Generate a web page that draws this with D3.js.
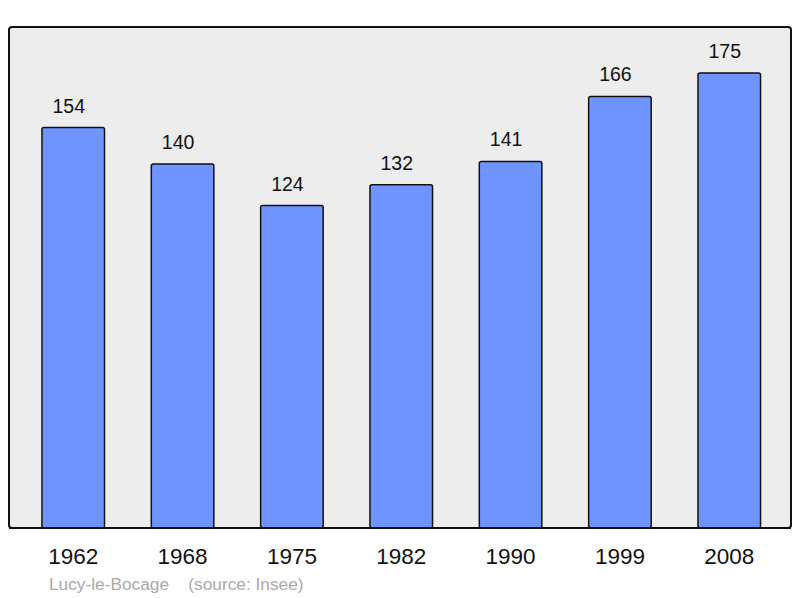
<!DOCTYPE html>
<html>
<head>
<meta charset="utf-8">
<script src="https://cdn.jsdelivr.net/npm/d3@7"></script>
<style>
  body { margin: 0; background: #fff; }
  text { font-family: "Liberation Sans", Arial, sans-serif; }
</style>
</head>
<body>
<svg id="chart" width="800" height="598"></svg>
<script>
// population per census year
var years = ["1962", "1968", "1975", "1982", "1990", "1999", "2008"];
var population = [154, 140, 124, 132, 141, 166, 175];
var place = "Lucy-le-Bocage";
var source = "(source: Insee)";

var svg = d3.select("#chart"),
    panel = {left: 9, top: 27, right: 791, bottom: 528};

var data = years.map(function(y, i) { return {year: y, value: population[i]}; });

var x = d3.scaleBand()
    .domain(years)
    .range([20.1, 782.4])
    .paddingInner(0.428)
    .paddingOuter(0.2);

var y = d3.scaleLinear()
    .domain([0, 175])
    .range([panel.bottom, 73]);

svg.append("rect")
    .attr("x", panel.left)
    .attr("y", panel.top)
    .attr("width", panel.right - panel.left)
    .attr("height", panel.bottom - panel.top)
    .attr("rx", 3)
    .attr("fill", "#ededed")
    .attr("stroke", "#111")
    .attr("stroke-width", 2);

svg.append("g")
  .selectAll("rect")
  .data(data)
  .enter().append("rect")
    .attr("x", function(d) { return x(d.year); })
    .attr("y", function(d) { return y(d.value); })
    .attr("width", x.bandwidth())
    .attr("height", function(d) { return y(0) - y(d.value); })
    .attr("rx", 2)
    .attr("fill", "#7094ff")
    .attr("stroke", "#111")
    .attr("stroke-width", 1.5);

// redraw bottom border over bar bases
svg.append("line")
    .attr("x1", panel.left).attr("x2", panel.right)
    .attr("y1", panel.bottom).attr("y2", panel.bottom)
    .attr("stroke", "#111").attr("stroke-width", 2);

// value labels sit a little left of the bar centre
svg.append("g")
  .selectAll("text")
  .data(data)
  .enter().append("text")
    .attr("x", function(d) { return x(d.year) + x.bandwidth() / 2 - 4.5; })
    .attr("y", function(d) { return y(d.value) - 15; })
    .attr("text-anchor", "middle")
    .attr("font-size", 19.5)
    .attr("fill", "#111")
    .text(function(d) { return d.value; });

svg.append("g")
  .selectAll("text")
  .data(years)
  .enter().append("text")
    .attr("x", function(d) { return x(d) + x.bandwidth() / 2; })
    .attr("y", 564)
    .attr("text-anchor", "middle")
    .attr("font-size", 22.5)
    .attr("fill", "#111")
    .text(function(d) { return d; });

svg.append("text")
    .attr("x", 49)
    .attr("y", 590)
    .attr("font-size", 17.3)
    .attr("fill", "#aaa")
    .attr("xml:space", "preserve")
    .text(place + "    " + source);
</script>
</body>
</html>
